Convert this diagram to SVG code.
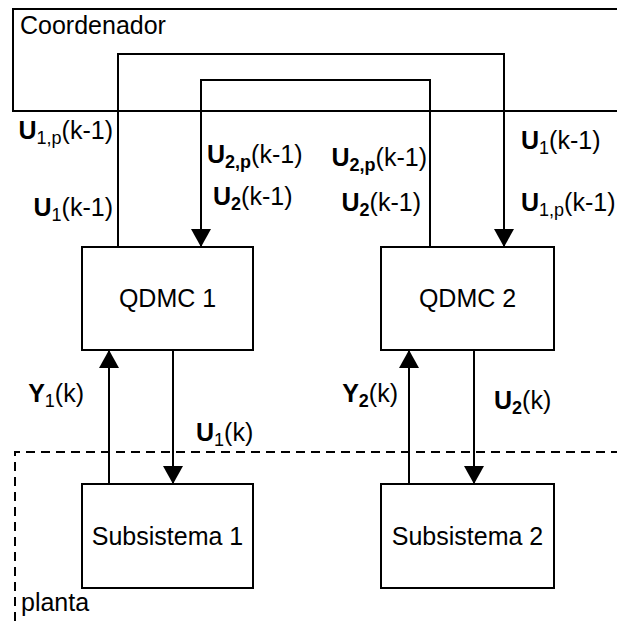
<svg xmlns="http://www.w3.org/2000/svg" width="617" height="621" viewBox="0 0 617 621">
  <style>
    .box { fill: #fff; stroke: #000; stroke-width: 2; }
    .wire { fill: none; stroke: #000; stroke-width: 2; }
    .dash { fill: none; stroke: #000; stroke-width: 2; stroke-dasharray: 9 6; }
    .t { font-family: "Liberation Sans", Arial, sans-serif; font-size: 25px; fill: #000; }
    .b { font-weight: bold; }
    .s { font-size: 18px; }
  </style>
  <defs>
    <marker id="arrow" viewBox="0 0 18 20" refX="18" refY="10" markerWidth="18" markerHeight="20" markerUnits="userSpaceOnUse" orient="auto">
      <path d="M0,0 L18,10 L0,20 Z" fill="#000"/>
    </marker>
  </defs>

  <rect width="617" height="621" fill="#fff"/>

  <!-- coordinator block (runs off the right edge) -->
  <g id="coordenador">
    <rect class="box" x="13" y="9" width="620" height="102"/>
    <text class="t" x="20" y="34">Coordenador</text>
  </g>

  <!-- plant boundary -->
  <g id="planta">
    <path class="dash" d="M15,621 V452 H617"/>
    <text class="t" x="21" y="611">planta</text>
  </g>

  <!-- connectors -->
  <g id="connectors">
    <path class="wire" d="M118,247 V54 H504 V247" marker-end="url(#arrow)"/>
    <path class="wire" d="M430,247 V80 H201 V247" marker-end="url(#arrow)"/>
    <line class="wire" x1="109" y1="484" x2="109" y2="350" marker-end="url(#arrow)"/>
    <line class="wire" x1="173" y1="350" x2="173" y2="484" marker-end="url(#arrow)"/>
    <line class="wire" x1="409" y1="484" x2="409" y2="350" marker-end="url(#arrow)"/>
    <line class="wire" x1="474" y1="347" x2="474" y2="484" marker-end="url(#arrow)"/>
  </g>

  <g id="qdmc1">
    <rect class="box" x="82" y="247" width="171" height="103"/>
    <text class="t" x="167.5" y="307" text-anchor="middle">QDMC 1</text>
  </g>
  <g id="qdmc2">
    <rect class="box" x="381" y="247" width="173" height="103"/>
    <text class="t" x="467.5" y="307" text-anchor="middle">QDMC 2</text>
  </g>
  <g id="subsistema1">
    <rect class="box" x="82" y="484" width="171" height="104"/>
    <text class="t" x="167.5" y="545" text-anchor="middle">Subsistema 1</text>
  </g>
  <g id="subsistema2">
    <rect class="box" x="381" y="484" width="173" height="104"/>
    <text class="t" x="467.5" y="545" text-anchor="middle">Subsistema 2</text>
  </g>

  <!-- signal labels -->
  <g id="labels">
    <text class="t" x="113" y="139" text-anchor="end"><tspan class="b">U</tspan><tspan class="s" dy="5">1,p</tspan><tspan dy="-5">(k-1)</tspan></text>
    <text class="t" x="113" y="216" text-anchor="end"><tspan class="b">U</tspan><tspan class="s" dy="5">1</tspan><tspan dy="-5">(k-1)</tspan></text>

    <text class="t" x="207" y="163"><tspan class="b">U</tspan><tspan class="s b" dy="5">2,p</tspan><tspan dy="-5">(k-1)</tspan></text>
    <text class="t" x="213" y="205"><tspan class="b">U</tspan><tspan class="s b" dy="5">2</tspan><tspan dy="-5">(k-1)</tspan></text>

    <text class="t" x="427" y="166" text-anchor="end"><tspan class="b">U</tspan><tspan class="s b" dy="5">2,p</tspan><tspan dy="-5">(k-1)</tspan></text>
    <text class="t" x="421" y="211" text-anchor="end"><tspan class="b">U</tspan><tspan class="s b" dy="5">2</tspan><tspan dy="-5">(k-1)</tspan></text>

    <text class="t" x="521" y="149"><tspan class="b">U</tspan><tspan class="s" dy="5">1</tspan><tspan dy="-5">(k-1)</tspan></text>
    <text class="t" x="521" y="211"><tspan class="b">U</tspan><tspan class="s" dy="5">1,p</tspan><tspan dy="-5">(k-1)</tspan></text>

    <text class="t" x="84" y="402" text-anchor="end"><tspan class="b">Y</tspan><tspan class="s" dy="5">1</tspan><tspan dy="-5">(k)</tspan></text>
    <text class="t" x="196" y="441"><tspan class="b">U</tspan><tspan class="s" dy="5">1</tspan><tspan dy="-5">(k)</tspan></text>
    <text class="t" x="398" y="402" text-anchor="end"><tspan class="b">Y</tspan><tspan class="s b" dy="5">2</tspan><tspan dy="-5">(k)</tspan></text>
    <text class="t" x="494" y="409"><tspan class="b">U</tspan><tspan class="s b" dy="5">2</tspan><tspan dy="-5">(k)</tspan></text>
  </g>
</svg>
